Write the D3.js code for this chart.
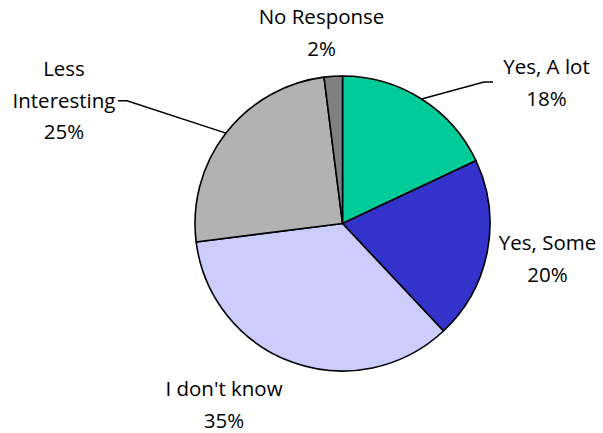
<!DOCTYPE html>
<html><head><meta charset="utf-8">
<script src="https://cdn.jsdelivr.net/npm/d3@7"></script>
<style>body{margin:0;background:#fff}svg{display:block}</style>
</head><body>
<svg id="c" width="603" height="433"></svg>
<script>
const categories = ["Yes, A lot", "Yes, Some", "I don't know", "Less Interesting", "No Response"];
const values = [18, 20, 35, 25, 2];
const colors = ["#00CC99", "#3333CC", "#CCCCFF", "#B2B2B2", "#808080"];
const labelLines = [["Yes, A lot", "18%"], ["Yes, Some", "20%"], ["I don't know", "35%"], ["Less", "Interesting", "25%"], ["No Response", "2%"]];

const svg = d3.select("#c");
const cx = 342.5, cy = 223.5, R = 147.5;
const g = svg.append("g").attr("transform", `translate(${cx},${cy})`);
const pie = d3.pie().sort(null).value(d => d);
const arcs = pie(values);
const arc = d3.arc().innerRadius(0).outerRadius(R);
g.selectAll("path.s").data(arcs).join("path").attr("class", "s")
  .attr("d", arc).attr("fill", (d, i) => colors[i])
  .attr("stroke", "#000").attr("stroke-width", 1.6).attr("stroke-linejoin", "round");

// label anchor positions (relative to center), first-line baseline
const labelPos = [[204, -149.5], [205, 26.5], [-118.5, 172.5], [-278.5, -147.5], [-21, -199.5]];
const font = "'Open Sans', sans-serif";
arcs.forEach((a, i) => {
  const lines = labelLines[i];
  const [lx, ly] = labelPos[i];
  const t = g.append("text").attr("text-anchor", "middle")
    .attr("font-family", font).attr("font-size", 20.5).attr("fill", "#000");
  lines.forEach((s, k) => t.append("tspan").attr("x", lx).attr("y", ly + k * 31.5).text(s));
});

// leader lines
const mid = a => (a.startAngle + a.endAngle) / 2;
function edge(a) { const m = mid(a); return [R * Math.sin(m), -R * Math.cos(m)]; }
const e0 = edge(arcs[0]);
g.append("path").attr("fill", "none").attr("stroke", "#000").attr("stroke-width", 1.5)
  .attr("d", d3.line()([e0, [141.5, -141.5], [150.5, -141.5]]));
const e3 = edge(arcs[3]);
g.append("path").attr("fill", "none").attr("stroke", "#000").attr("stroke-width", 1.5)
  .attr("d", d3.line()([e3, [-215.5, -122.8], [-224.5, -122.8]]));
</script>
</body></html>
